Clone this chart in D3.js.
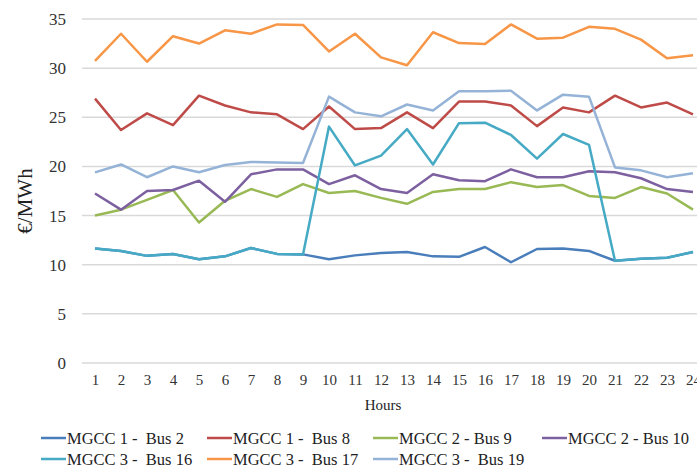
<!DOCTYPE html>
<html>
<head>
<meta charset="utf-8">
<script src="https://cdn.jsdelivr.net/npm/d3@7"></script>
<style>
  html, body { margin: 0; padding: 0; background: #fff; }
  svg { display: block; font-family: "Liberation Serif", "Times New Roman", serif; }
</style>
</head>
<body>
<svg id="chart" width="697" height="469"></svg>
<script>
// Hourly marginal prices per microgrid bus (€/MWh)
const hours = d3.range(1, 25);
const yTicks = [0, 5, 10, 15, 20, 25, 30, 35];

const bus2  = [11.65, 11.4, 10.9, 11.1, 10.55, 10.85, 11.7, 11.1, 11.05, 10.55, 10.95, 11.2, 11.3, 10.85, 10.8, 11.8, 10.25, 11.6, 11.65, 11.4, 10.4, 10.6, 10.7, 11.3];
const bus8  = [26.9, 23.7, 25.4, 24.2, 27.2, 26.2, 25.5, 25.3, 23.8, 26.1, 23.8, 23.9, 25.5, 23.9, 26.6, 26.6, 26.2, 24.1, 26.0, 25.5, 27.2, 26.0, 26.5, 25.3];
const bus9  = [15.0, 15.6, 16.6, 17.6, 14.3, 16.5, 17.7, 16.9, 18.2, 17.3, 17.5, 16.8, 16.2, 17.4, 17.7, 17.7, 18.4, 17.9, 18.1, 17.0, 16.8, 17.9, 17.25, 15.6];
const bus10 = [17.25, 15.6, 17.5, 17.6, 18.55, 16.4, 19.2, 19.7, 19.7, 18.2, 19.1, 17.7, 17.3, 19.2, 18.6, 18.5, 19.7, 18.9, 18.9, 19.5, 19.4, 18.8, 17.7, 17.4];
const bus16 = [11.65, 11.4, 10.9, 11.1, 10.55, 10.85, 11.7, 11.1, 11.05, 24.05, 20.1, 21.1, 23.8, 20.2, 24.4, 24.45, 23.2, 20.8, 23.3, 22.2, 10.4, 10.6, 10.7, 11.3];
const bus17 = [30.75, 33.5, 30.65, 33.25, 32.5, 33.85, 33.5, 34.45, 34.4, 31.7, 33.5, 31.1, 30.3, 33.65, 32.55, 32.45, 34.45, 33.0, 33.1, 34.2, 34.0, 32.9, 31.0, 31.3];
const bus19 = [19.4, 20.2, 18.9, 20.0, 19.4, 20.15, 20.45, 20.4, 20.35, 27.1, 25.5, 25.1, 26.3, 25.7, 27.65, 27.65, 27.7, 25.7, 27.3, 27.1, 19.9, 19.6, 18.9, 19.3];

const seriesNames = ["MGCC 1 -  Bus 2", "MGCC 1 -  Bus 8", "MGCC 2 - Bus 9", "MGCC 2 - Bus 10",
                     "MGCC 3 -  Bus 16", "MGCC 3 -  Bus 17", "MGCC 3 -  Bus 19"];
const seriesValues = [bus2, bus8, bus9, bus10, bus16, bus17, bus19];
const seriesColors = ["#4A7EBB", "#BE4B48", "#98B954", "#7D60A0", "#46AAC5", "#F79646", "#95B3D7"];

const svg = d3.select("#chart");
const plot = { left: 82, right: 706, top: 19, bottom: 363 };

const x = d3.scalePoint().domain(hours).range([plot.left, plot.right]).padding(0.5);
const y = d3.scaleLinear().domain([0, 35]).range([plot.bottom, plot.top]);

// horizontal gridlines
svg.append("g").selectAll("line").data(yTicks).join("line")
  .attr("x1", plot.left).attr("x2", plot.right)
  .attr("y1", d => y(d)).attr("y2", d => y(d))
  .attr("stroke", "#d9d9d9").attr("stroke-width", 1.5);

// y axis labels
const yAxis = d3.axisLeft(y).tickValues(yTicks).tickSize(0).tickPadding(0);
svg.append("g").attr("transform", `translate(66,0)`).call(yAxis)
  .call(g => g.select(".domain").remove())
  .call(g => g.selectAll("text").attr("font-size", 17).attr("fill", "#333")
    .attr("font-family", "Liberation Serif, serif"));

// x axis labels
const xAxis = d3.axisBottom(x).tickSize(0).tickPadding(0);
svg.append("g").attr("transform", `translate(0,${plot.bottom + 11})`).call(xAxis)
  .call(g => g.select(".domain").remove())
  .call(g => g.selectAll("text").attr("font-size", 15).attr("fill", "#333")
    .attr("font-family", "Liberation Serif, serif"));

// axis titles
svg.append("text").attr("x", 383).attr("y", 410).attr("text-anchor", "middle")
  .attr("font-size", 15).attr("fill", "#222").text("Hours");
svg.append("text").attr("transform", `translate(32,201) rotate(-90)`)
  .attr("text-anchor", "middle").attr("font-size", 21).attr("fill", "#222").text("€/MWh");

// series lines
const line = d3.line().x((d, i) => x(hours[i])).y(d => y(d));
svg.append("g").selectAll("path").data(seriesValues).join("path")
  .attr("d", d => line(d))
  .attr("fill", "none")
  .attr("stroke", (d, i) => seriesColors[i])
  .attr("stroke-width", 2.5)
  .attr("stroke-linejoin", "round");

// legend
const legendCols = [41, 207, 373, 542];
const legendRows = [438, 459];
const legend = svg.append("g").selectAll("g").data(seriesNames).join("g")
  .attr("transform", (d, i) => `translate(${legendCols[i % 4]},${legendRows[Math.floor(i / 4)]})`);
legend.append("line").attr("x1", 0).attr("x2", 25).attr("y1", 0).attr("y2", 0)
  .attr("stroke", (d, i) => seriesColors[i]).attr("stroke-width", 2.5);
legend.append("text").attr("x", 26).attr("y", 0).attr("dy", "0.35em")
  .attr("font-size", 16.5).attr("fill", "#222").style("white-space", "pre")
  .text(d => d);
</script>
</body>
</html>
